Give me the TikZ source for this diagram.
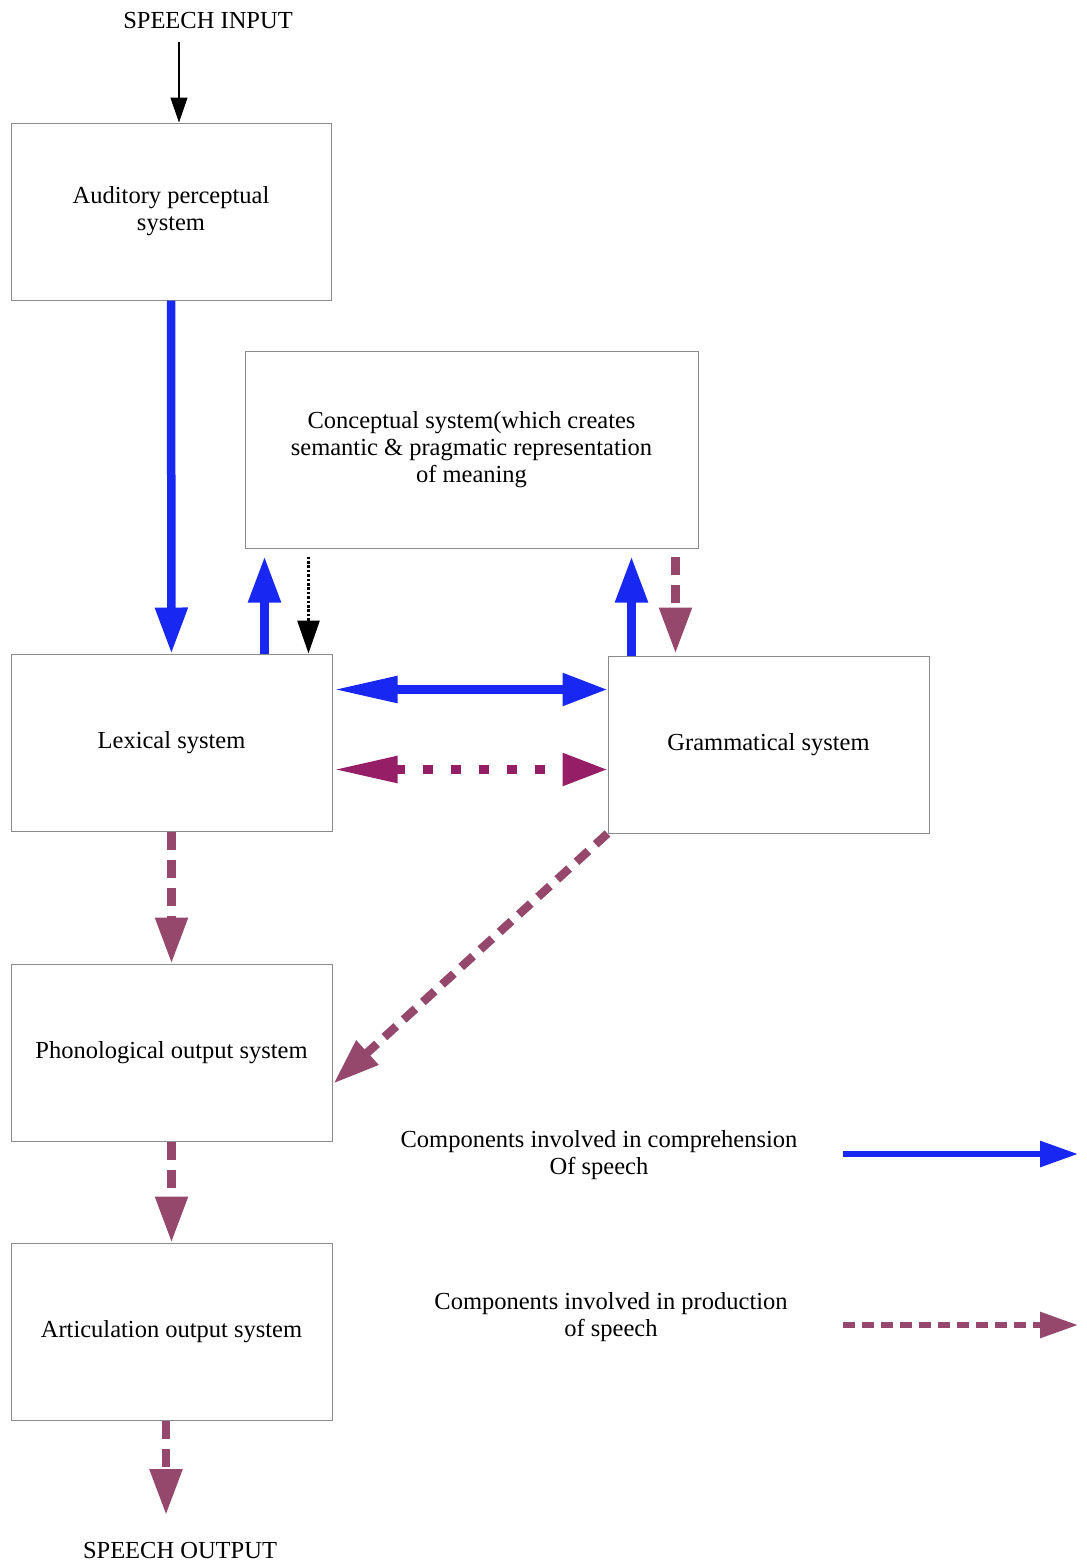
\documentclass[tikz,border=0pt]{standalone}
\usepackage{fontspec}
\setmainfont{Liberation Serif}
\usetikzlibrary{arrows.meta,calc}
\definecolor{compblue}{RGB}{24,40,242}
\definecolor{prodmauve}{RGB}{150,72,108}
\definecolor{prodmagenta}{RGB}{150,30,102}

\begin{document}
\begin{tikzpicture}[x=1pt, y=-1pt,
        every node/.style={font=\fontsize{24.5}{27}\selectfont, align=center},
        box/.style={draw=black!45, line width=1pt, minimum width=321pt, minimum height=177pt},
        comp/.style={line width=8.5pt, draw=compblue, -{Triangle[length=46pt,width=31pt]}},
        prod/.style={line width=8.5pt, draw=prodmauve, dash pattern=on 18pt off 10pt, -{Triangle[length=46pt,width=31pt]}},
        twoway/.style={{Triangle[length=64pt,width=25pt]}-{Triangle[length=45pt,width=31pt]}}]
        \useasboundingbox (0,0) rectangle (1087,1564);
        % kassar
        \node (in) at (208,21) {SPEECH INPUT};
        \node [box, minimum width=320pt] (aud) at (171,211.5) {Auditory perceptual\\system};
        \node [box, minimum width=453pt, minimum height=197pt] (con) at (471.5,449.5) {Conceptual system(which creates\\semantic \& pragmatic representation\\of meaning};
        \node [box] (lex) at (171.5,742.5) {Lexical system};
        \node [box] (gram) at (768.5,744.5) {Grammatical system};
        \node [box] (phon) at (171.5,1052.5) {Phonological output system};
        \node [box] (artic) at (171.5,1331.5) {Articulation output system};
        \node (out) at (180,1550) {SPEECH OUTPUT};
        % punktar
        \coordinate (inA) at (179,42);
        \coordinate (lexA) at ($(lex.north west)+(254,0)$);
        \coordinate (conA) at ($(con.south west)+(64,8)$);
        \coordinate (gramA) at ($(gram.north west)+(24,0)$);
        \coordinate (conB) at ($(con.south west)+(431,8)$);
        \coordinate (lexB) at ($(lex.north east)+(1,36)$);
        \coordinate (lexC) at ($(lex.north east)+(1,116)$);
        \coordinate (phonA) at ($(phon.east)+(1,31)$);
        \coordinate (articA) at ($(artic.south)+(-5.5,0)$);
        \coordinate (outA) at (166,1515);
        % inntak
        \draw [line width=1.3pt, -{Triangle[length=25pt,width=17pt]}] (inA) -- (inA |- aud.north);
        % skilningur
        \draw [comp] (aud) -- (lex);
        \draw [comp, shorten >=8pt] (lexA) -- (lexA |- con.south);
        \draw [comp, shorten >=8pt] (gramA) -- (gramA |- con.south);
        \draw [comp, twoway] (lexB) -- (lexB -| gram.west);
        % hugtakakerfi
        \draw [line width=2.8pt, dash pattern=on 2.6pt off 1.8pt, -{Triangle[length=33pt,width=22pt]}] (conA) -- (conA |- lex.north);
        % framleiðsla
        \draw [prod, shorten >=2pt] (conB) -- (conB |- gram.north);
        \draw [prod, draw=prodmagenta, dash pattern=on 10pt off 18pt, twoway] (lexC) -- (lexC -| gram.west);
        \draw [prod] (lex) -- (phon);
        \draw [prod, dash pattern=on 16pt off 10pt] (gram.south west) -- (phonA);
        \draw [prod] (phon) -- (artic);
        \draw [prod] (articA) -- (outA);
        % skýringar
        \node (lgcomp) at (599,1155) {Components involved in comprehension\\Of speech};
        \node (lgprod) at (611,1317) {Components involved in production\\of speech};
        \coordinate (lgA) at (843,1154);
        \coordinate (lgB) at (1078,1154);
        \coordinate (lgC) at (843,1325);
        \coordinate (lgD) at (1078,1325);
        \draw [comp, line width=6pt, -{Triangle[length=38pt,width=25pt]}] (lgA) -- (lgB);
        \draw [prod, line width=6pt, dash pattern=on 12pt off 7pt, -{Triangle[length=38pt,width=25pt]}] (lgC) -- (lgD);
\end{tikzpicture}
\end{document}
